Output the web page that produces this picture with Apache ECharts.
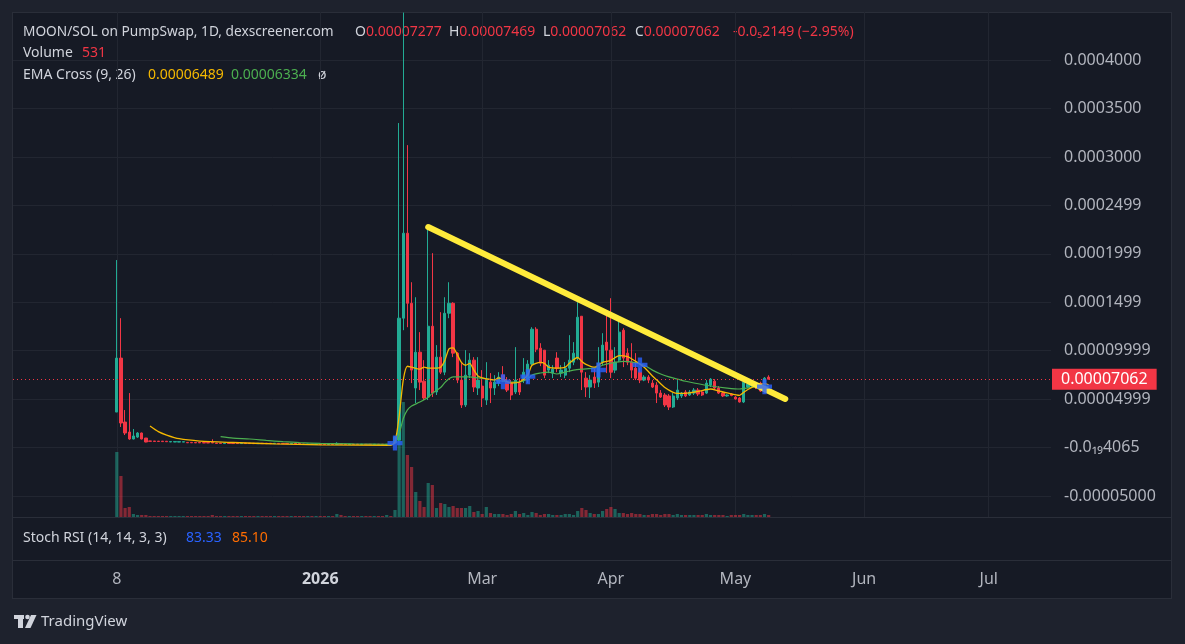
<!DOCTYPE html>
<html>
<head>
<meta charset="utf-8">
<title>MOON/SOL on PumpSwap</title>
<script src="https://cdn.jsdelivr.net/npm/echarts@6/dist/echarts.min.js"></script>
<style>
  html, body { margin: 0; padding: 0; background: #1e222d; }
  #frame { position: absolute; left: 12px; top: 12px; width: 1160px; height: 587px; box-sizing: border-box;
           background: #161a25; border: 1px solid #2a2e39; }
  #main { position: absolute; left: 0; top: 0; width: 1185px; height: 644px; }
</style>
</head>
<body>
<div id="frame"></div>
<div id="main"></div>
<script>
// prices are kept in 1e-6 SOL (0.00007062 -> 70.62), one slot = one daily bar
const slotCount = 251;
const timeLabelSlots = [25, 74, 113, 144, 174, 205, 235];
const timeLabels = ['8', '2026', 'Mar', 'Apr', 'May', 'Jun', 'Jul'];

const priceTicks = [-50, 0, 50, 100, 150, 200, 250, 300, 350, 400];
const priceTickLabels = ['-0.00005000', '-0.0\u2081\u20894065', '0.00004999', '0.00009999', '0.0001499',
  '0.0001999', '0.0002499', '0.0003000', '0.0003500', '0.0004000'];
const lastPrice = 70.62;

// [open, close, low, high]
const earlyStart = 25;
const earlyOHLC = [
  [36.7, 92.4, 36.7, 193.6], [92.4, 25.4, 21.3, 133.6], [26.4, 15.1, 13.0, 38.8], [16.1, 8.9, 8.0, 56.3],
  [8.9, 12.0, 8.5, 19.2], [10.9, 15.1, 10.0, 16.0], [15.1, 8.9, 8.5, 15.5], [9.9, 5.8, 5.5, 10.0]
];
const earlyVolume = [17550, 11070, 2430, 2700, 810, 540, 540, 540];

const flatStart = 33;
const flatOHLC = [
  [6.9, 6.5, 6.4, 7.0], [6.8, 6.4, 6.3, 6.9], [6.7, 6.3, 6.2, 6.8], [6.7, 6.2, 6.1, 6.8], [6.6, 6.1, 6.0, 6.7],
  [5.8, 6.3, 5.7, 6.4], [5.8, 6.2, 5.7, 6.3], [5.7, 6.2, 5.6, 6.3], [5.7, 6.1, 5.6, 6.2], [5.4, 5.0, 4.9, 5.5],
  [5.4, 5.0, 4.9, 5.5], [5.3, 4.9, 4.8, 5.4], [5.3, 4.9, 4.8, 5.4], [5.2, 4.8, 4.7, 5.3], [5.2, 4.8, 4.7, 5.3],
  [5.4, 4.8, 4.7, 8.6], [4.7, 4.3, 4.2, 4.8], [4.7, 4.3, 4.2, 4.8], [4.2, 4.6, 4.1, 4.7], [4.7, 4.3, 4.2, 4.8],
  [4.6, 4.2, 4.1, 4.7], [4.6, 4.2, 4.1, 4.7], [4.2, 4.6, 4.1, 4.7], [4.6, 4.2, 4.1, 4.7], [4.6, 4.2, 4.1, 4.7],
  [4.5, 4.1, 4.0, 4.6], [4.1, 4.5, 4.0, 4.6], [4.5, 4.1, 4.0, 4.6], [4.5, 4.1, 4.0, 4.6], [4.5, 4.1, 4.0, 4.6],
  [4.1, 4.5, 4.0, 4.6], [4.4, 4.0, 3.9, 4.5], [4.4, 4.0, 3.9, 4.5], [4.4, 4.0, 3.9, 4.5], [4.0, 4.4, 3.9, 4.5],
  [4.4, 4.0, 3.9, 4.5], [4.3, 3.9, 3.8, 4.4], [3.7, 3.3, 3.2, 3.8], [3.3, 3.7, 3.2, 3.8], [3.7, 3.3, 3.2, 3.8],
  [3.3, 3.7, 3.2, 3.8], [3.7, 3.3, 3.2, 3.8], [3.6, 3.2, 3.1, 3.7], [3.2, 3.6, 3.1, 3.7], [3.6, 3.2, 3.1, 3.7],
  [3.3, 4.4, 3.2, 5.5], [4.2, 3.4, 3.3, 4.3], [3.6, 3.2, 3.1, 3.7], [3.2, 3.6, 3.1, 3.7], [3.6, 3.2, 3.1, 3.7],
  [3.6, 3.2, 3.1, 3.7], [3.2, 3.6, 3.1, 3.7], [3.5, 3.1, 3.0, 3.6], [3.5, 3.1, 3.0, 3.6], [3.1, 3.5, 3.0, 3.6],
  [3.5, 3.1, 3.0, 3.6], [3.5, 3.1, 3.0, 3.6], [3.1, 3.5, 3.0, 3.6], [3.5, 3.1, 3.0, 3.6]
];
const flatVolume = [
  270, 270, 270, 270, 270, 270, 270, 270, 270, 270,
  270, 270, 270, 270, 270, 540, 270, 270, 270, 270,
  270, 270, 270, 270, 270, 270, 270, 270, 270, 270,
  270, 270, 270, 270, 270, 270, 270, 270, 270, 270,
  270, 270, 270, 270, 270, 810, 540, 270, 270, 270,
  270, 270, 270, 270, 270, 270, 270, 540, 270
];

const mainStart = 92;
const mainOHLC = [
  [4.8, 10.9, 3.7, 12.0], [7.8, 133.6, 7.0, 335.0], [133.6, 221.3, 121.2, 449], [221.3, 149.0, 124.3, 312.2],
  [149.0, 80.0, 66.6, 170.7], [61.5, 98.5, 46.0, 155.2], [98.5, 67.6, 59.4, 119.2], [68.6, 51.2, 49.1, 90.3],
  [52.2, 125.3, 49.1, 229.6], [125.3, 56.3, 52.2, 200.7], [57.4, 93.4, 54.3, 105.8], [93.4, 77.9, 75.9, 139.8],
  [77.9, 138.7, 74.8, 155.2], [138.7, 149.0, 133.6, 170.7], [149.0, 97.5, 93.4, 150.1], [97.5, 69.7, 66.6, 98.5],
  [69.7, 44.0, 40.9, 87.2], [44.0, 74.8, 41.9, 100.6], [74.8, 90.3, 71.7, 97.5], [90.3, 62.5, 57.4, 93.4],
  [61.5, 69.7, 54.3, 93.4], [63.5, 51.2, 41.9, 80.0], [49.1, 69.7, 44.0, 88.2], [67.6, 61.5, 46.0, 76.9],
  [61.5, 67.6, 54.3, 74.8], [66.6, 72.8, 63.5, 77.9], [74.8, 69.7, 67.6, 84.1], [67.6, 59.4, 57.4, 72.8],
  [66.6, 54.3, 49.1, 69.7], [57.4, 69.7, 55.3, 103.7], [66.6, 57.4, 54.3, 71.7], [69.7, 77.9, 66.6, 92.4],
  [69.7, 86.2, 66.6, 90.3], [86.2, 122.2, 84.1, 124.3], [122.2, 101.6, 98.5, 124.3], [102.6, 87.2, 84.1, 107.8],
  [100.6, 74.8, 71.7, 100.6], [80.0, 85.1, 76.9, 90.3], [76.9, 81.0, 71.7, 85.1], [92.4, 82.0, 77.9, 98.5],
  [76.9, 80.0, 72.8, 85.1], [74.8, 82.0, 71.7, 88.2], [82.0, 90.3, 77.9, 116.1], [88.2, 97.5, 85.1, 108.9],
  [92.4, 134.6, 90.3, 150.1], [135.6, 77.9, 59.4, 135.6], [71.7, 62.5, 52.2, 77.9], [62.5, 69.7, 51.2, 74.8],
  [72.8, 66.6, 61.5, 82.0], [67.6, 87.2, 62.5, 103.7], [88.2, 105.8, 85.1, 118.1], [108.9, 100.6, 76.9, 138.7],
  [100.6, 77.9, 71.7, 154.2], [80.0, 88.2, 76.9, 103.7], [90.3, 119.2, 88.2, 133.6], [121.2, 92.4, 83.1, 123.3],
  [97.5, 88.2, 85.1, 102.6], [88.2, 80.0, 71.7, 107.8], [82.0, 71.7, 69.7, 97.5], [77.9, 69.7, 66.6, 82.0],
  [69.7, 72.8, 68.6, 74.8], [72.8, 69.7, 66.6, 74.8], [66.6, 62.5, 61.5, 69.7], [64.5, 56.3, 46.0, 67.6],
  [56.3, 52.2, 51.2, 59.4], [54.3, 44.0, 41.9, 56.3], [53.3, 41.9, 38.8, 55.3], [41.9, 53.3, 40.9, 56.3],
  [51.2, 59.4, 49.1, 69.7], [53.3, 56.3, 51.2, 57.4], [57.4, 53.3, 52.2, 59.4], [54.3, 57.4, 53.3, 59.4],
  [56.3, 59.4, 54.3, 61.5], [59.4, 55.3, 53.3, 61.5], [57.4, 54.3, 53.3, 58.4], [56.3, 66.6, 55.3, 69.7],
  [64.5, 70.7, 62.5, 71.7], [68.6, 61.5, 60.4, 70.7], [61.5, 56.3, 55.3, 63.5], [56.3, 53.3, 52.2, 57.4],
  [53.3, 54.3, 52.5, 55.0], [55.3, 53.8, 53.0, 56.0], [52.2, 50.2, 49.6, 53.3], [51.2, 47.1, 46.5, 52.2],
  [47.1, 67.6, 46.0, 70.7], [62.5, 65.6, 61.5, 67.6], [63.5, 65.6, 62.5, 67.0], [64.5, 61.5, 60.4, 66.6],
  [66.6, 58.4, 57.4, 68.0], [58.4, 71.7, 56.3, 72.8], [72.77, 70.62, 70.62, 74.69]
];
const mainVolume = [
  1890, 21600, 31050, 16740, 13500, 6750, 4320, 2700, 9180, 8640,
  2430, 3780, 3510, 2700, 2970, 2430, 2430, 2430, 2970, 1350,
  1620, 810, 2700, 1080, 810, 810, 810, 540, 810, 1620,
  810, 1080, 540, 1350, 1080, 540, 810, 810, 540, 540,
  540, 810, 810, 540, 1620, 2430, 1890, 1080, 810, 810,
  1620, 2160, 2700, 2160, 1080, 1080, 810, 1080, 810, 810,
  540, 540, 810, 810, 540, 810, 810, 540, 810, 540,
  540, 540, 540, 540, 540, 810, 540, 540, 540, 540,
  270, 540, 540, 540, 810, 540, 540, 540, 540, 810, 531
];

// EMA Cross (9, 26): [slot, value]
const ema9Points = [[33, 22.3], [35, 16.5], [37, 13.0], [40, 9.2], [45, 6.8], [53, 5.3], [63, 3.8], [74, 2.9], [91, 2.4],
  [92, 6], [93, 32], [94, 70], [95, 84], [96, 83], [98, 81], [99, 83], [100, 82], [102, 82], [103, 83], [104, 90],
  [105, 102], [106, 103], [107, 96], [108, 88], [109, 85], [110, 87], [111, 80], [112, 74], [114, 71], [116, 70],
  [117, 72], [119, 68], [120, 66.7], [122, 67.7], [124, 75], [125, 85], [127, 88], [128, 87], [129, 83], [131, 82],
  [133, 83], [134, 87], [136, 93], [137, 89], [138, 86], [140, 83], [142, 88], [144, 90], [146, 95], [148, 94],
  [150, 89], [152, 83], [154, 74], [155, 70], [157, 62], [159, 57], [160, 56], [162, 56], [165, 58], [168, 60.5],
  [170, 58.5], [172, 56.5], [175, 54], [176, 57], [177, 60], [179, 64], [181, 66], [182, 64.9]];
const ema26Points = [[50, 11.3], [53, 9.8], [57, 8.9], [61, 7.4], [65, 6.1], [69, 5.1], [74, 4.4], [82, 3.8], [91, 3.4],
  [92, 4.5], [93, 14], [94, 30], [95, 39], [96, 43], [98, 47], [100, 52], [101, 56], [103, 62], [104, 67], [105, 71],
  [106, 73], [108, 73], [110, 73], [112, 72], [114, 71], [116, 70], [119, 68], [122, 67.7], [124, 71], [125, 75],
  [127, 77], [129, 78], [131, 76], [133, 78], [135, 80], [137, 81], [140, 82], [142, 85], [144, 87.3], [147, 89],
  [150, 87.5], [152, 85], [154, 80], [156, 76], [158, 73], [160, 70.8], [162, 68.5], [164, 66.7], [168, 63.6],
  [172, 61.5], [175, 60.5], [178, 62.3], [180, 63.2], [182, 63.3]];
const crossPoints = [[92, 4.7], [118, 68.0], [124, 73.2], [141, 80.1], [151, 85.3], [181, 62.9]];
const trendPoints = [[100, 227.7], [186, 50.2]];

const font = "'Noto Sans', sans-serif";
const up = '#22ab94', down = '#f23645';
const textColor = '#d1d4dc', axisText = '#b2b5be', gridColor = '#222631';
const ema9Color = '#f5b800', ema26Color = '#4caf50';

const categories = [];
for (let i = 0; i < slotCount; i++) categories.push(String(i));

const seg = (start, rows) => rows.map((r, i) => [start + i].concat(r));
const candleRows = [].concat(seg(earlyStart, earlyOHLC), seg(flatStart, flatOHLC), seg(mainStart, mainOHLC));
const volumeRows = [].concat(earlyVolume, flatVolume, mainVolume);
const volumeData = candleRows.map((r, i) => ({
  value: [r[0], volumeRows[i]],
  itemStyle: { color: r[2] >= r[1] ? 'rgba(34,171,148,0.5)' : 'rgba(242,54,69,0.5)' }
}));

const txt = (x, y, text, fill, size, weight) => ({
  type: 'text', x: x, y: y, silent: true,
  style: { text: text, fill: fill, fontSize: size, fontFamily: font, fontWeight: weight || 'normal', verticalAlign: 'middle' }
});
const pair = (x, y, key, val, valColor) => ({
  type: 'text', x: x, y: y, silent: true,
  style: {
    text: '{k|' + key + '}{v|' + val + '}', verticalAlign: 'middle',
    rich: {
      k: { fill: textColor, fontSize: 14, fontFamily: font },
      v: { fill: valColor, fontSize: 14, fontFamily: font }
    }
  }
});

const chart = echarts.init(document.getElementById('main'));
chart.setOption({
  backgroundColor: 'transparent',
  animation: false,
  grid: { left: 13, top: 12, width: 1038, height: 505, outerBoundsMode: 'none' },
  xAxis: {
    type: 'category', data: categories, boundaryGap: false,
    axisLine: { show: false }, axisTick: { show: false },
    axisLabel: {
      interval: (i) => timeLabelSlots.includes(i),
      formatter: (v, i) => {
        const k = timeLabelSlots.indexOf(i);
        if (k < 0) return '';
        return timeLabels[k] === '2026' ? '{y|2026}' : timeLabels[k];
      },
      rich: { y: { fontWeight: 'bold', color: textColor, fontSize: 16, fontFamily: font } },
      color: axisText, fontSize: 16, fontFamily: font, margin: 54
    },
    splitLine: { show: true, interval: (i) => timeLabelSlots.includes(i), lineStyle: { color: gridColor } }
  },
  yAxis: [
    {
      type: 'value', position: 'right', min: -71.6, max: 449.6,
      axisLine: { show: false },
      axisTick: { show: false, customValues: priceTicks },
      axisLabel: {
        customValues: priceTicks,
        formatter: (v) => priceTickLabels[priceTicks.indexOf(v)],
        color: axisText, fontSize: 16, fontFamily: font, margin: 13, align: 'left'
      },
      splitLine: { show: true, lineStyle: { color: gridColor } }
    },
    { type: 'value', min: 0, max: 136350, show: false, splitLine: { show: false } }
  ],
  series: [
    {
      name: 'Volume', type: 'bar', yAxisIndex: 1, data: volumeData, barWidth: 3.2, z: 1
    },
    {
      name: 'MOON/SOL', type: 'candlestick', data: candleRows,
      encode: { x: 0, y: [1, 2, 3, 4] }, barWidth: 2.8, z: 3,
      itemStyle: { color: up, color0: down, borderColor: up, borderColor0: down, borderWidth: 1 },
      markLine: {
        silent: true, symbol: 'none',
        data: [{ yAxis: lastPrice }],
        lineStyle: { color: down, type: [1, 3], width: 1 },
        label: {
          show: true, position: 'end', distance: 1,
          formatter: '0.00007062', color: '#ffffff', backgroundColor: down,
          fontSize: 16, fontFamily: font, padding: [3, 9, 2, 9]
        }
      }
    },
    {
      name: 'EMA 26', type: 'line', data: ema26Points, showSymbol: false, smooth: 0.25, z: 4,
      lineStyle: { color: ema26Color, width: 1.2 }
    },
    {
      name: 'EMA 9', type: 'line', data: ema9Points, showSymbol: false, smooth: 0.25, z: 4,
      lineStyle: { color: ema9Color, width: 1.3 }
    },
    {
      name: 'Trend', type: 'line', data: trendPoints, z: 6,
      symbol: 'circle', showSymbol: true,
      symbolSize: (v, p) => (p.dataIndex === 0 ? 8 : 0),
      itemStyle: { color: '#ffeb3b', borderColor: '#d4b800', borderWidth: 1 },
      lineStyle: { color: '#ffeb3b', width: 6, cap: 'round' }
    },
    {
      name: 'Cross', type: 'scatter', data: crossPoints, z: 7,
      symbol: 'path://M5,0H9V5H14V9H9V14H5V9H0V5H5Z', symbolSize: 15,
      itemStyle: { color: '#2962ff' }
    }
  ],
  graphic: [
    { type: 'line', silent: true, shape: { x1: 12, y1: 517.5, x2: 1172, y2: 517.5 }, style: { stroke: '#2a2e39', lineWidth: 1 } },
    { type: 'line', silent: true, shape: { x1: 12, y1: 560.5, x2: 1172, y2: 560.5 }, style: { stroke: '#2a2e39', lineWidth: 1 } },
    txt(23, 32, 'MOON/SOL on PumpSwap, 1D, dexscreener.com', textColor, 13.7),
    pair(355, 32, 'O', '0.00007277', down),
    pair(449, 32, 'H', '0.00007469', down),
    pair(543, 32, 'L', '0.00007062', down),
    pair(635, 32, 'C', '0.00007062', down),
    txt(733, 32, '-0.0\u20852149 (\u22122.95%)', down, 14),
    txt(23, 53, 'Volume', textColor, 14),
    txt(82, 53, '531', down, 14),
    txt(23, 75, 'EMA Cross (9, 26)', textColor, 14),
    txt(148, 75, '0.00006489', ema9Color, 14),
    txt(231, 75, '0.00006334', ema26Color, 14),
    txt(318, 75, '\u00f8', textColor, 14),
    txt(23, 538, 'Stoch RSI (14, 14, 3, 3)', textColor, 14),
    txt(186, 538, '83.33', '#2962ff', 14),
    txt(232, 538, '85.10', '#ff6d00', 14),
    { type: 'rect', silent: true, shape: { x: 14, y: 615, width: 10, height: 4 }, style: { fill: textColor } },
    { type: 'rect', silent: true, shape: { x: 18, y: 615, width: 5, height: 13 }, style: { fill: textColor } },
    { type: 'circle', silent: true, shape: { cx: 27.5, cy: 617, r: 2.3 }, style: { fill: textColor } },
    { type: 'polygon', silent: true, shape: { points: [[31, 615], [36.5, 615], [30.5, 628], [25, 628]] }, style: { fill: textColor } },
    txt(41, 622, 'TradingView', textColor, 15)
  ]
});
</script>
</body>
</html>
